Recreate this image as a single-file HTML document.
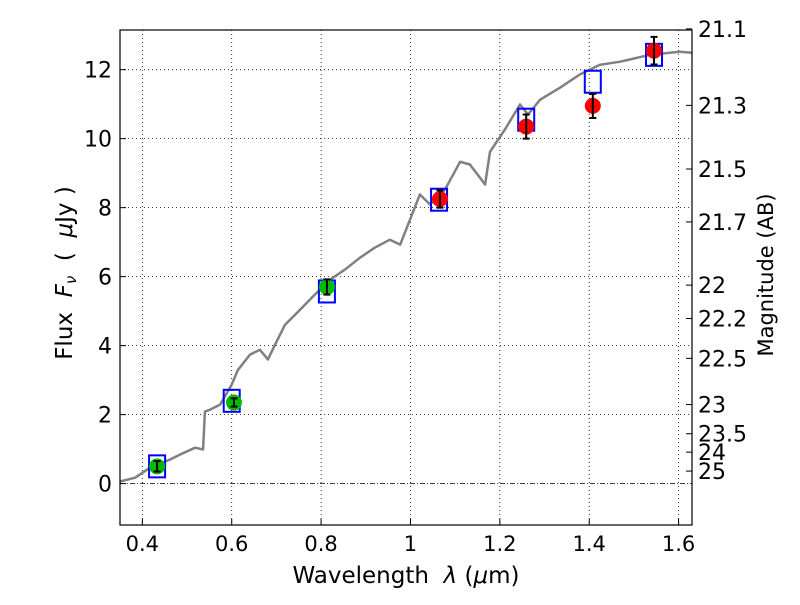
<!DOCTYPE html>
<html><head><meta charset="utf-8"><style>
body{margin:0;background:#fff;}
svg text{font-family:"DejaVu Sans","Liberation Sans",sans-serif;}
</style></head><body>
<svg id="chart" width="800" height="600" xmlns="http://www.w3.org/2000/svg">
<rect width="800" height="600" fill="#fff"/>
<g id="grid"></g>
<g id="marks"></g>
<rect x="120" y="30" width="572" height="495" fill="none" stroke="#000" stroke-width="1.2"/>
<g id="axes"></g>
<text x="406" y="583" font-size="23" text-anchor="middle" xml:space="preserve">Wavelength  <tspan font-style="italic">λ</tspan> (<tspan font-style="italic">μ</tspan>m)</text>
<text transform="translate(72,273) rotate(-90)" font-size="23" text-anchor="middle" xml:space="preserve">Flux  <tspan font-style="italic">F<tspan font-size="15" dy="4">ν</tspan></tspan><tspan dy="-4">  (  </tspan><tspan font-style="italic">μ</tspan>Jy )</text>
<text transform="translate(773,275) rotate(-90)" font-size="21" text-anchor="middle">Magnitude (AB)</text>
</svg>
<script>
const specLam=[0.35,0.384,0.417,0.462,0.484,0.518,0.536,0.54,0.551,0.574,0.6,0.614,0.641,0.663,0.681,0.697,0.719,0.753,0.786,0.82,0.853,0.887,0.92,0.954,0.977,0.999,1.021,1.044,1.077,1.111,1.133,1.167,1.178,1.211,1.245,1.263,1.29,1.335,1.379,1.424,1.469,1.536,1.603,1.63];
const specFlux=[0.06,0.17,0.46,0.7,0.84,1.04,0.99,2.09,2.14,2.29,2.87,3.3,3.74,3.88,3.6,4.03,4.6,5.04,5.48,5.91,6.2,6.55,6.84,7.07,6.93,7.65,8.38,8.09,8.52,9.33,9.25,8.67,9.62,10.26,10.99,10.7,11.13,11.48,11.86,12.14,12.23,12.43,12.52,12.49];
const modelLam=[0.433,0.6,0.813,1.064,1.259,1.408,1.545];
const modelFlux=[0.5,2.4,5.57,8.23,10.55,11.65,12.43];
const obsLam=[0.433,0.605,0.813,1.066,1.259,1.408,1.545];
const obsFlux=[0.5,2.35,5.7,8.25,10.35,10.95,12.55];
const obsErr=[0.15,0.12,0.22,0.25,0.35,0.35,0.4];
const obsColor=['#00bb00','#00bb00','#00bb00','#ff0000','#ff0000','#ff0000','#ff0000'];
const xTicks=[0.4,0.6,0.8,1.0,1.2,1.4,1.6];
const xTickLabels=['0.4','0.6','0.8','1','1.2','1.4','1.6'];
const yTicks=[0,2,4,6,8,10,12];
const magTicks=[21.1,21.3,21.5,21.7,22,22.2,22.5,23,23.5,24,25];
const magLabels=['21.1','21.3','21.5','21.7','22','22.2','22.5','23','23.5','24','25'];

const L=120,R=692,T=30,B=525,x0=0.35,x1=1.63,y0=-1.2,y1=13.15;
const X=v=>L+(v-x0)/(x1-x0)*(R-L);
const Y=v=>B-(v-y0)/(y1-y0)*(B-T);
const NS='http://www.w3.org/2000/svg';
function mk(tag,attrs,parent){const e=document.createElementNS(NS,tag);for(const k in attrs)e.setAttribute(k,attrs[k]);parent.appendChild(e);return e;}
const grid=document.getElementById('grid'),marks=document.getElementById('marks'),axes=document.getElementById('axes');

xTicks.forEach((t,i)=>{
  const g=mk('line',{x1:X(t),x2:X(t),y1:T,y2:B,stroke:'#000','stroke-width':0.8,'stroke-dasharray':'1,3'},grid);
  
  
  const tk=mk('line',{x1:X(t),x2:X(t),y1:B,y2:B-6,stroke:'#000'},axes);
  
  
  const tx=mk('text',{x:X(t),y:B+26,'font-size':21,'text-anchor':'middle'},axes);
  tx.textContent=xTickLabels[i];
  
  
});
yTicks.forEach(t=>{
  const attrs={x1:L,x2:R,y1:Y(t),y2:Y(t),stroke:'#000','stroke-width':0.8,'stroke-dasharray':t===0?'5,2,1,2':'1,3'};
  const g=mk('line',attrs,grid);
  
  
  const tk=mk('line',{x1:L,x2:L+6,y1:Y(t),y2:Y(t),stroke:'#000'},axes);
  
  
  const tx=mk('text',{x:L-8,y:Y(t)+8,'font-size':22,'text-anchor':'end'},axes);
  tx.textContent=String(t);
  
  
});
magTicks.forEach((m,i)=>{
  const f=Math.pow(10,(23.9-m)/2.5);
  const tk=mk('line',{x1:R,x2:R-6,y1:Y(f),y2:Y(f),stroke:'#000'},axes);
  
  
  const tx=mk('text',{x:R+6,y:Y(f)+8,'font-size':22},axes);
  tx.textContent=magLabels[i];
  
  
});

const pts=specLam.map((l,i)=>X(l).toFixed(1)+','+Y(specFlux[i]).toFixed(1)).join(' ');
const sp=mk('polyline',{points:pts,fill:'none',stroke:'#808080','stroke-width':2.5,'stroke-linejoin':'round'},marks);



modelLam.forEach((l,i)=>{
  const r=mk('rect',{x:X(l)-8,y:Y(modelFlux[i])-11,width:16,height:22,fill:'none',stroke:'#0000ff','stroke-width':2},marks);
  
  
});
obsLam.forEach((l,i)=>{
  const c=mk('ellipse',{cx:X(l),cy:Y(obsFlux[i]),rx:8,ry:8,fill:obsColor[i]},marks);
  
  
  const x=X(l),ya=Y(obsFlux[i]+obsErr[i]),yb=Y(obsFlux[i]-obsErr[i]);
  const e=mk('path',{d:`M${x},${ya}V${yb}M${x-3.5},${ya}H${x+3.5}M${x-3.5},${yb}H${x+3.5}`,stroke:'#000','stroke-width':2,fill:'none'},marks);
  
  
});
</script>
</body></html>
